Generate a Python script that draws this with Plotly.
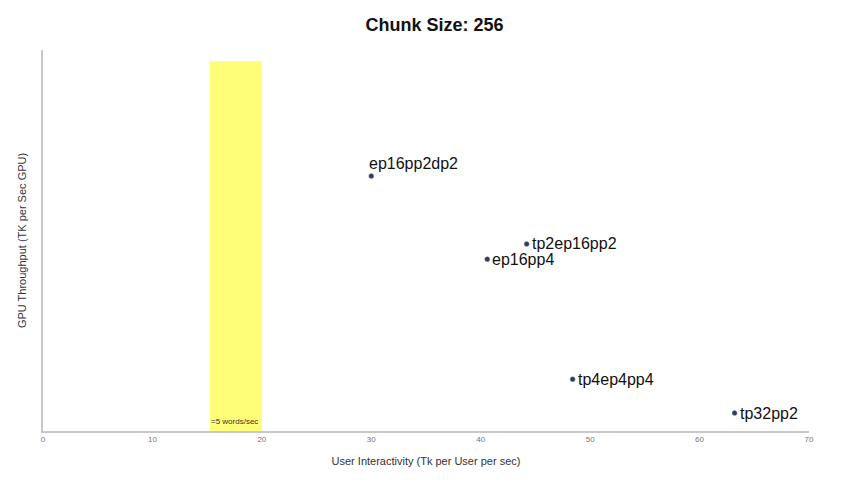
import plotly.graph_objects as go

# configurations: interactivity (x) vs GPU throughput (y, arbitrary scale)
configs = ['ep16pp2dp2', 'tp2ep16pp2', 'ep16pp4', 'tp4ep4pp4', 'tp32pp2']
interactivity = [30.0, 44.2, 40.6, 48.4, 63.2]
throughput = [669, 491, 451, 136, 47]
label_above = [True, False, False, False, False]

# reading-speed band
band_x = [15.25, 20.0]
band_top = 971
band_label = '=5 words/sec'

x_ticks = [0, 10, 20, 30, 40, 50, 60, 70]

fig = go.Figure()

fig.add_shape(type='rect', xref='x', yref='y',
              x0=band_x[0], x1=band_x[1], y0=0, y1=band_top,
              fillcolor='#ffff77', line_width=0, layer='below')

fig.add_annotation(x=band_x[0], y=0, xref='x', yref='y', text=band_label,
                   showarrow=False, xanchor='left', yanchor='bottom',
                   yshift=3, xshift=-1,
                   font=dict(size=8, color='#333333'))

fig.add_trace(go.Scatter(
    x=interactivity,
    y=throughput,
    mode='markers',
    marker=dict(size=5, color='#2e3a5c', line=dict(width=0.5, color='#8a94b0')),
    showlegend=False,
    cliponaxis=False,
))

for name, xv, yv, above in zip(configs, interactivity, throughput, label_above):
    if above:
        fig.add_annotation(x=xv, y=yv, text=name, showarrow=False,
                           xanchor='left', yanchor='bottom', xshift=-4, yshift=2,
                           font=dict(size=16, color='#111111'))
    else:
        fig.add_annotation(x=xv, y=yv, text=name, showarrow=False,
                           xanchor='left', yanchor='middle', xshift=3, yshift=0,
                           font=dict(size=16, color='#111111'))

fig.update_layout(
    width=853, height=480,
    margin=dict(l=35, r=52, t=42, b=57),
    title=dict(text='<b>Chunk Size: 256</b>', x=0.5, xanchor='center',
               y=0.978, yanchor='top', font=dict(size=18, color='#111111')),
    font=dict(family='Liberation Sans, Arial, sans-serif'),
    plot_bgcolor='white', paper_bgcolor='white',
)

fig.update_xaxes(range=[0, 70], tickvals=x_ticks, showgrid=False, zeroline=False,
                 showline=True, linecolor='#c8c8c8', linewidth=1.5,
                 ticks='', tickfont=dict(size=8, color='#777777'),
                 automargin=False,
                 title=dict(text='User Interactivity (Tk per User per sec)',
                            font=dict(size=11, color='#333333'), standoff=14))
fig.update_yaxes(range=[0, 1000], showgrid=False, zeroline=False,
                 showline=True, linecolor='#c8c8c8', linewidth=1.5,
                 showticklabels=False, ticks='', automargin=False,
                 title=dict(text='GPU Throughput (TK per Sec GPU)',
                            font=dict(size=11, color='#333333'), standoff=12))

fig.write_html('out.html')
